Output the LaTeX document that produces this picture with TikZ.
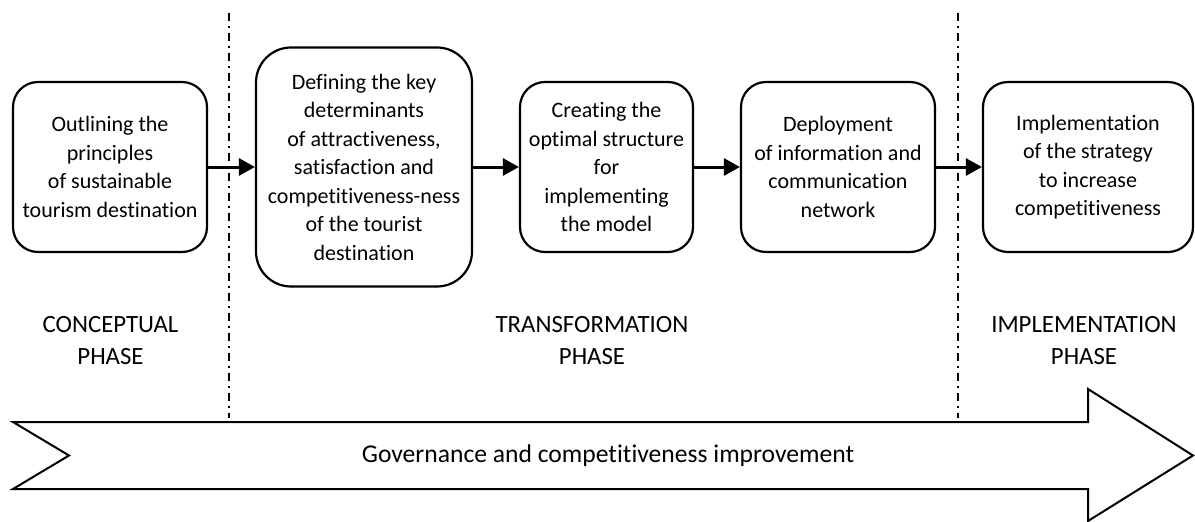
\documentclass[tikz,border=0pt]{standalone}
\usepackage{fontspec}
\setmainfont{Carlito}[Ligatures={NoCommon}]
\usetikzlibrary{arrows.meta}
\begin{document}
\begin{tikzpicture}[x=1pt,y=-1pt,
  font=\fontsize{22}{28.5}\selectfont,
  stepbox/.style={draw, line width=2.2pt, rounded corners=25pt, align=center, inner sep=0pt, minimum height=170pt},
  conn/.style={line width=3pt, -{Triangle[length=16pt,width=17pt]}},
  phaseline/.style={line width=2pt, dash pattern=on 8pt off 5pt on 2pt off 5pt},
  phaselabel/.style={align=center, inner sep=0pt, font=\fontsize{24.8}{32}\selectfont},
  bigarrow/.style={draw, line width=2pt, fill=white}]
\useasboundingbox (0,0) rectangle (1195,522);
% phase separators
\coordinate (s1t) at (229,13);
\coordinate (s1b) at (229,418);
\coordinate (s2t) at (958,13);
\coordinate (s2b) at (958,418);
\draw[phaseline] (s1t) -- (s1b);
\draw[phaseline] (s2t) -- (s2b);
% boxes
\node[stepbox, minimum width=194pt] (b1) at (110,167) {Outlining the\\principles\\of sustainable\\tourism destination};
\node[stepbox, minimum width=216pt, minimum height=239pt, rounded corners=35pt] (b2) at (364,167) {Defining the key\\determinants\\of attractiveness,\\satisfaction and\\competitiveness-ness\\of the tourist\\destination};
\node[stepbox, minimum width=173pt] (b3) at (606.5,167) {Creating the\\optimal structure\\for\\implementing\\the model};
\node[stepbox, minimum width=194pt] (b4) at (838,167) {Deployment\\of information and\\communication\\network};
\node[stepbox, minimum width=210pt] (b5) at (1088,167) {Implementation\\of the strategy\\to increase\\competitiveness};
\draw[conn] (b1) -- (b2);
\draw[conn] (b2) -- (b3);
\draw[conn] (b3) -- (b4);
\draw[conn] (b4) -- (b5);
% phase labels
\node[phaselabel] (p1) at (110.5,341) {CONCEPTUAL\\PHASE};
\node[phaselabel] (p2) at (592,341) {TRANSFORMATION\\PHASE};
\node[phaselabel] (p3) at (1084,341) {IMPLEMENTATION\\PHASE};
% big arrow
\draw[bigarrow] (13,422) -- (1088,422) -- (1088,389) -- (1193,455.5) -- (1088,521) -- (1088,489) -- (13,489) -- (69,455.5) -- cycle;
\node[font=\fontsize{25.6}{30}\selectfont] (gov) at (608,456) {Governance and competitiveness improvement};
\end{tikzpicture}
\end{document}
